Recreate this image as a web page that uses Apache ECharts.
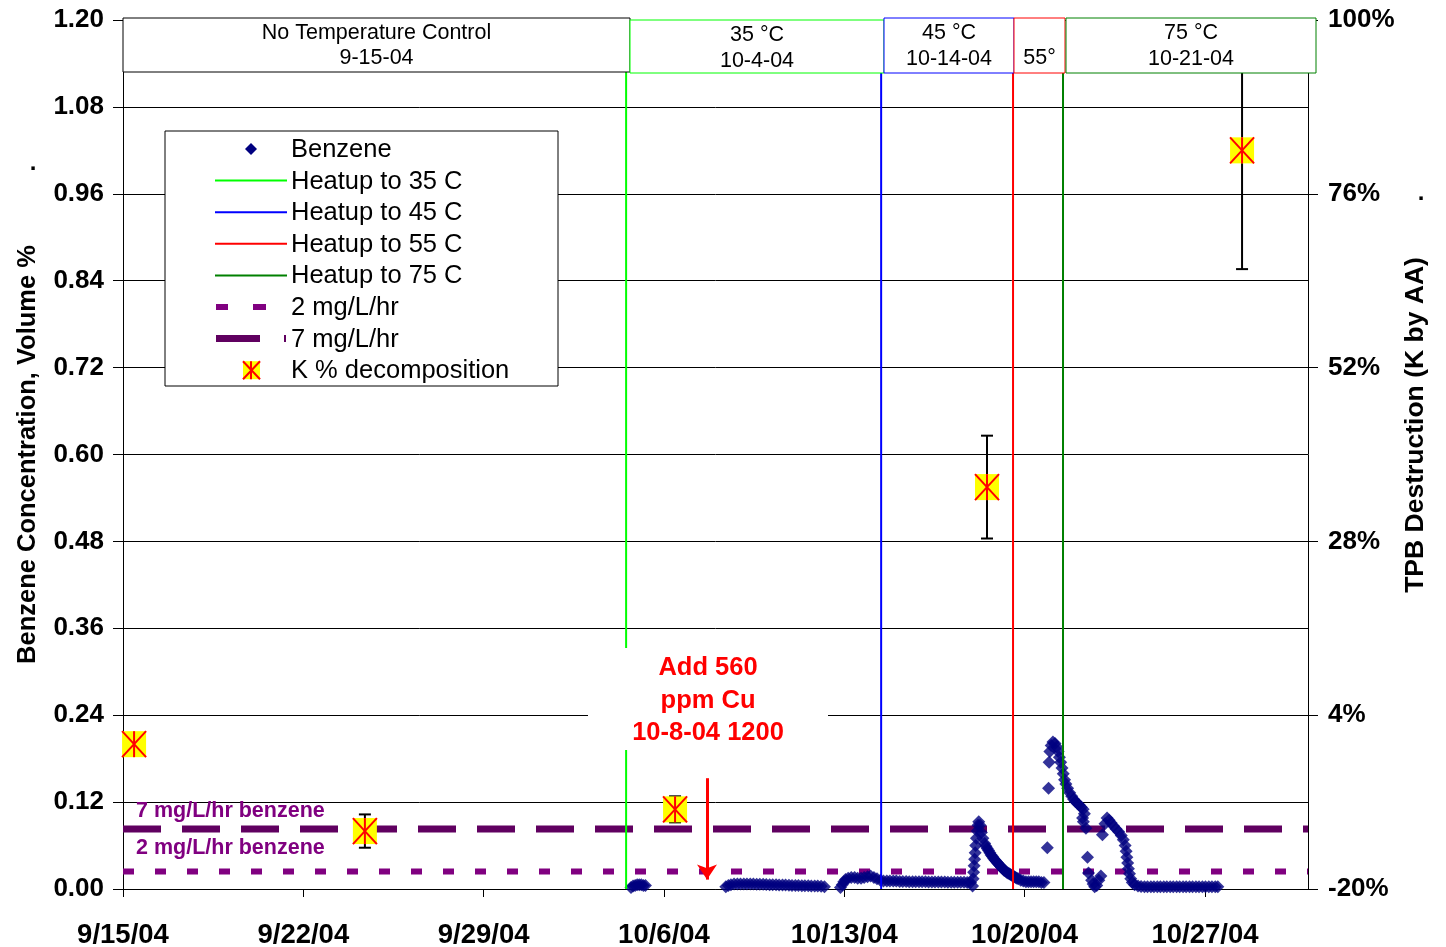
<!DOCTYPE html>
<html><head><meta charset="utf-8">
<script src="https://cdn.jsdelivr.net/npm/echarts@6/dist/echarts.min.js"></script>
<style>html,body{margin:0;padding:0;background:#fff}#c{width:1446px;height:947px}</style>
</head><body><div id="c"></div>
<script>
// ---- data (x = days since 9/15/04) ----
const xTickLabels = ['9/15/04','9/22/04','9/29/04','10/6/04','10/13/04','10/20/04','10/27/04'];
const xMaxDay = 46;
const leftAxis = {min: 0, max: 1.2, interval: 0.12};
const rightAxis = {min: -20, max: 100, interval: 24};

const heatupNames = ['Heatup to 35 C','Heatup to 45 C','Heatup to 55 C','Heatup to 75 C'];
const heatupDays = [19.53, 29.43, 34.55, 36.49];
const heatupColors = ['#00ff00','#0000ff','#ff0000','#008000'];

const rateNames = ['2 mg/L/hr','7 mg/L/hr'];
const rateValues = [0.024, 0.083];

const kDays = [0.43, 9.39, 21.43, 33.54, 43.44];
const kPct = [0, -12, -9, 35.5, 82];
const kErr = [0, 2.3, 1.8, 7.1, 16.4];

const arrowDay = 22.67;
const arrowFrom = 0.153;
const arrowTo = 0.013;

const benzene = [
 [19.72,0.002],[19.8,0.004],[19.88,0.005],[19.96,0.006],[20.04,0.006],[20.12,0.006],[20.2,0.005],[20.28,0.005],
 [23.4,0.003],[23.5,0.005],[23.6,0.006],[23.72,0.007],[23.85,0.007],[23.97,0.007],[24.1,0.007],[24.22,0.007],
 [24.35,0.007],[24.47,0.0068],[24.6,0.0066],[24.72,0.0065],[24.85,0.0064],[24.97,0.0062],[25.1,0.006],[25.22,0.006],
 [25.35,0.0058],[25.47,0.0056],[25.6,0.0055],[25.72,0.0054],[25.85,0.0052],[25.97,0.005],[26.1,0.005],[26.22,0.0048],
 [26.35,0.0046],[26.47,0.0045],[26.6,0.0044],[26.72,0.0042],[26.85,0.004],[26.97,0.004],[27.1,0.0037],[27.23,0.003],
 [27.85,0.002],[27.92,0.006],[27.98,0.01],[28.05,0.013],[28.15,0.015],[28.27,0.016],[28.4,0.016],[28.52,0.015],
 [28.65,0.015],[28.77,0.016],[28.9,0.017],[29.02,0.018],[29.15,0.016],[29.27,0.014],[29.4,0.012],
 [29.52,0.011],[29.65,0.011],[29.77,0.011],[29.9,0.011],[30.02,0.011],[30.15,0.0105],[30.27,0.0105],[30.4,0.0105],
 [30.52,0.01],[30.65,0.01],[30.77,0.01],[30.9,0.01],[31.02,0.01],[31.15,0.01],[31.27,0.0098],[31.4,0.0098],
 [31.52,0.0097],[31.65,0.0096],[31.77,0.0095],[31.9,0.0095],[32.02,0.0094],[32.15,0.0094],[32.27,0.0093],[32.4,0.0093],
 [32.52,0.0092],[32.65,0.0092],[32.77,0.009],[32.9,0.009],
 [32.98,0.004],[33.0,0.014],[33.02,0.023],[33.04,0.032],[33.06,0.041],[33.08,0.05],[33.1,0.06],[33.13,0.07],[33.16,0.08],
 [33.19,0.088],[33.22,0.093],[33.27,0.088],[33.32,0.078],[33.38,0.07],[33.45,0.063],[33.5,0.059],[33.55,0.056],[33.6,0.053],
 [33.65,0.05],[33.7,0.047],[33.75,0.045],[33.8,0.042],[33.85,0.04],[33.9,0.038],[33.95,0.036],[34.0,0.034],[34.05,0.032],
 [34.1,0.03],[34.15,0.028],[34.2,0.026],[34.25,0.025],[34.3,0.023],[34.35,0.022],[34.4,0.021],[34.45,0.02],[34.5,0.019],
 [34.55,0.018],[34.6,0.017],[34.65,0.016],[34.7,0.015],[34.75,0.014],
 [34.85,0.012],[34.95,0.011],[35.05,0.01],[35.15,0.01],[35.25,0.01],[35.35,0.01],[35.45,0.01],[35.55,0.01],[35.65,0.009],[35.75,0.009],
 [35.88,0.057],[35.93,0.139],[35.95,0.175],[35.98,0.19],[36.03,0.198],[36.1,0.203],[36.18,0.201],[36.25,0.196],[36.3,0.19],
 [36.35,0.182],[36.4,0.175],[36.45,0.167],[36.5,0.159],[36.55,0.151],[36.6,0.145],[36.67,0.139],[36.75,0.133],[36.83,0.128],
 [36.9,0.124],[36.97,0.121],[37.05,0.118],[37.12,0.116],[37.2,0.113],[37.27,0.11],[37.32,0.104],[37.25,0.098],[37.28,0.093],
 [37.38,0.084],[37.44,0.044],[37.48,0.022],[37.6,0.012],[37.66,0.007],[37.72,0.003],[37.8,0.005],[37.88,0.012],[37.96,0.018],
 [38.02,0.075],[38.12,0.09],[38.2,0.098],[38.28,0.095],[38.36,0.091],[38.45,0.087],[38.55,0.083],[38.65,0.079],[38.75,0.074],
 [38.83,0.068],[38.9,0.06],[38.94,0.052],[38.97,0.044],[39.0,0.036],[39.03,0.028],[39.07,0.021],[39.12,0.014],[39.18,0.009],
 [39.27,0.006],[39.4,0.004],[39.52,0.0035],[39.65,0.003],[39.77,0.003],[39.9,0.003],[40.02,0.003],[40.15,0.003],[40.27,0.003],
 [40.4,0.003],[40.52,0.003],[40.65,0.003],[40.77,0.003],[40.9,0.003],[41.02,0.003],[41.15,0.003],[41.27,0.003],[41.4,0.003],
 [41.52,0.003],[41.65,0.003],[41.77,0.003],[41.9,0.003],[42.02,0.003],[42.15,0.003],[42.27,0.003],[42.4,0.003],[42.5,0.003]
];

// ---- chart ----
const FONT = 'Liberation Sans, Arial, sans-serif';
const chart = echarts.init(document.getElementById('c'), null, {renderer: 'canvas'});

const series = [];
const rateStyles = [
  {color: '#800080', width: 6, type: [11, 21]},
  {color: '#600060', width: 7, type: [38, 21]}
];
rateNames.forEach((n, i) => {
  series.push({
    name: n, type: 'line', silent: true, symbol: 'none', z: 2,
    data: [[0, rateValues[i]], [xMaxDay, rateValues[i]]],
    lineStyle: rateStyles[i]
  });
});
series.push({
  name: 'Benzene', type: 'scatter', symbol: 'diamond', symbolSize: 13, z: 3,
  itemStyle: {color: '#000080'},
  data: benzene,
  markLine: {
    silent: true, symbol: ['none', 'arrow'], symbolSize: 15,
    lineStyle: {color: '#ff0000', width: 3, type: 'solid'},
    label: {show: false},
    data: [[{coord: [arrowDay, arrowFrom]}, {coord: [arrowDay, arrowTo]}]]
  }
});
heatupNames.forEach((n, i) => {
  series.push({
    name: n, type: 'line', silent: true, symbol: 'none', z: 4,
    data: [[heatupDays[i], leftAxis.min], [heatupDays[i], leftAxis.max]],
    lineStyle: {color: heatupColors[i], width: 2}
  });
});
series.push({
  name: 'K % decomposition', type: 'custom', yAxisIndex: 1, z: 5,
  data: kDays.map((d, i) => [d, kPct[i], kErr[i]]),
  renderItem: function (params, api) {
    const x = api.value(0), v = api.value(1), e = api.value(2);
    const c = api.coord([x, v]);
    const kids = [];
    if (e > 0) {
      const t = api.coord([x, v + e]), b = api.coord([x, v - e]);
      const ls = {stroke: '#000', lineWidth: 2};
      kids.push({type: 'line', shape: {x1: c[0], y1: t[1], x2: c[0], y2: b[1]}, style: ls});
      kids.push({type: 'line', shape: {x1: c[0]-6, y1: t[1], x2: c[0]+6, y2: t[1]}, style: ls});
      kids.push({type: 'line', shape: {x1: c[0]-6, y1: b[1], x2: c[0]+6, y2: b[1]}, style: ls});
    }
    const w = 12, h = 13;
    kids.push({type: 'rect', shape: {x: c[0]-w, y: c[1]-h, width: 2*w, height: 2*h}, style: {fill: '#ffff00'}});
    const rs = {stroke: '#ff0000', lineWidth: 2};
    kids.push({type: 'line', shape: {x1: c[0]-w, y1: c[1]-h, x2: c[0]+w, y2: c[1]+h}, style: rs});
    kids.push({type: 'line', shape: {x1: c[0]+w, y1: c[1]-h, x2: c[0]-w, y2: c[1]+h}, style: rs});
    kids.push({type: 'line', shape: {x1: c[0], y1: c[1]-h, x2: c[0], y2: c[1]+h}, style: rs});
    return {type: 'group', children: kids};
  }
});

// legend drawn as graphic
const legendItems = ['Benzene'].concat(heatupNames, rateNames, ['K % decomposition']);
const legX = 165, legY = 131, legW = 393, legH = 255, rowY0 = 149, rowGap = 31.6;
const g = [];
g.push({type: 'rect', shape: {x: legX, y: legY, width: legW, height: legH}, style: {fill: '#fff', stroke: '#000', lineWidth: 1}, z: 100});
legendItems.forEach((name, i) => {
  const y = rowY0 + i * rowGap;
  g.push({type: 'text', x: 291, y: y + 1, z: 101, style: {text: name, font: '25.5px ' + FONT, fill: '#000', align: 'left', verticalAlign: 'middle'}});
  if (i === 0) {
    g.push({type: 'polygon', z: 101, shape: {points: [[251, y-6], [257, y], [251, y+6], [245, y]]}, style: {fill: '#000080'}});
  } else if (i >= 1 && i <= 4) {
    g.push({type: 'line', z: 101, shape: {x1: 215, y1: y, x2: 287, y2: y}, style: {stroke: heatupColors[i-1], lineWidth: 2}});
  } else if (i === 5) {
    g.push({type: 'rect', z: 101, shape: {x: 216, y: y-3, width: 12, height: 6}, style: {fill: '#800080'}});
    g.push({type: 'rect', z: 101, shape: {x: 253, y: y-3, width: 13, height: 6}, style: {fill: '#800080'}});
  } else if (i === 6) {
    g.push({type: 'rect', z: 101, shape: {x: 216, y: y-3.5, width: 44, height: 7}, style: {fill: '#600060'}});
    g.push({type: 'rect', z: 101, shape: {x: 284, y: y-3.5, width: 2, height: 7}, style: {fill: '#600060'}});
  } else {
    const cx = 251, cy = y;
    g.push({type: 'rect', z: 101, shape: {x: cx-8, y: cy-9, width: 17, height: 18}, style: {fill: '#ffff00'}});
    g.push({type: 'line', z: 102, shape: {x1: cx-8, y1: cy-9, x2: cx+9, y2: cy+9}, style: {stroke: '#ff0000', lineWidth: 2}});
    g.push({type: 'line', z: 102, shape: {x1: cx+9, y1: cy-9, x2: cx-8, y2: cy+9}, style: {stroke: '#ff0000', lineWidth: 2}});
    g.push({type: 'line', z: 102, shape: {x1: cx, y1: cy-9, x2: cx, y2: cy+9}, style: {stroke: '#ff0000', lineWidth: 2}});
  }
});

// top period boxes
const boxes = [
  {x: 123, y: 18, w: 507, h: 54, c: '#000', t1: 'No Temperature Control', t2: '9-15-04', y1: 33, y2: 58},
  {x: 630, y: 20, w: 254, h: 53, c: '#00ff00', t1: '35 °C', t2: '10-4-04', y1: 35, y2: 61},
  {x: 884, y: 18, w: 130, h: 55, c: '#0000ff', t1: '45 °C', t2: '10-14-04', y1: 33, y2: 59},
  {x: 1014, y: 18, w: 51, h: 55, c: '#ff0000', t1: '', t2: '55°', y1: 33, y2: 58},
  {x: 1066, y: 18, w: 250, h: 55, c: '#008000', t1: '75 °C', t2: '10-21-04', y1: 33, y2: 59}
];
boxes.forEach(b => {
  g.push({type: 'rect', z: 100, shape: {x: b.x, y: b.y, width: b.w, height: b.h}, style: {fill: '#fff', stroke: b.c, lineWidth: 1}});
  const cx = b.x + b.w / 2;
  if (b.t1) g.push({type: 'text', z: 101, x: cx, y: b.y1, style: {text: b.t1, font: '21.5px ' + FONT, fill: '#000', align: 'center', verticalAlign: 'middle'}});
  g.push({type: 'text', z: 101, x: cx, y: b.y2, style: {text: b.t2, font: '21.5px ' + FONT, fill: '#000', align: 'center', verticalAlign: 'middle'}});
});

// Cu annotation
g.push({type: 'rect', z: 90, shape: {x: 588, y: 648, width: 240, height: 102}, style: {fill: '#fff'}});
['Add 560', 'ppm Cu', '10-8-04 1200'].forEach((t, i) => {
  g.push({type: 'text', z: 91, x: 708, y: 668 + i * 32.5, style: {text: t, font: 'bold 25.5px ' + FONT, fill: '#ff0000', align: 'center', verticalAlign: 'middle'}});
});
// rate labels
g.push({type: 'text', z: 91, x: 136, y: 811, style: {text: '7 mg/L/hr benzene', font: 'bold 21.5px ' + FONT, fill: '#800080', align: 'left', verticalAlign: 'middle'}});
g.push({type: 'text', z: 91, x: 136, y: 848, style: {text: '2 mg/L/hr benzene', font: 'bold 21.5px ' + FONT, fill: '#800080', align: 'left', verticalAlign: 'middle'}});
// right axis title
g.push({type: 'text', z: 91, x: 1416, y: 425, rotation: Math.PI / 2, style: {text: 'TPB Destruction (K by AA)', font: 'bold 26.5px ' + FONT, fill: '#000', align: 'center', verticalAlign: 'middle'}});
g.push({type: 'text', z: 91, x: 33, y: 163, style: {text: '.', font: 'bold 24px ' + FONT, fill: '#000', align: 'center', verticalAlign: 'middle'}});
g.push({type: 'text', z: 91, x: 1421, y: 193, style: {text: '.', font: 'bold 24px ' + FONT, fill: '#000', align: 'center', verticalAlign: 'middle'}});

const yLabelStyle = {fontFamily: FONT, fontSize: 26, fontWeight: 'bold', color: '#000'};
const xLabelStyle = {fontFamily: FONT, fontSize: 27.5, fontWeight: 'bold', color: '#000'};
const option = {
  animation: false,
  backgroundColor: '#fff',
  textStyle: {fontFamily: FONT},
  grid: {left: 123, right: 138, top: 20, bottom: 58, containLabel: false, outerBoundsMode: 'none'},
  xAxis: {
    type: 'value', min: 0, max: xMaxDay, interval: 7,
    axisLine: {show: true, lineStyle: {color: '#000', width: 1}},
    axisTick: {show: true, inside: false, length: 8, lineStyle: {color: '#000'}},
    axisLabel: Object.assign({margin: 32, showMaxLabel: false, formatter: v => (v % 7 === 0 ? (xTickLabels[v / 7] || '') : '')}, xLabelStyle),
    splitLine: {show: false}
  },
  yAxis: [
    {
      type: 'value', position: 'left', min: leftAxis.min, max: leftAxis.max, interval: leftAxis.interval,
      name: 'Benzene Concentration, Volume %', nameLocation: 'middle', nameRotate: 90, nameGap: 82,
      nameTextStyle: {fontFamily: FONT, fontSize: 25.5, fontWeight: 'bold', color: '#000'},
      axisLine: {show: true, lineStyle: {color: '#000', width: 1}},
      axisTick: {show: true, inside: false, length: 10, lineStyle: {color: '#000'}},
      axisLabel: Object.assign({margin: 19, formatter: v => v.toFixed(2)}, yLabelStyle),
      splitLine: {show: true, lineStyle: {color: '#000', width: 1}}
    },
    {
      type: 'value', position: 'right', min: rightAxis.min, max: rightAxis.max, interval: rightAxis.interval,
      axisLine: {show: true, lineStyle: {color: '#000', width: 1}},
      axisTick: {show: true, inside: false, length: 10, lineStyle: {color: '#000'}},
      axisLabel: Object.assign({margin: 20, formatter: v => v + '%'}, yLabelStyle),
      splitLine: {show: false}
    }
  ],
  series: series,
  graphic: {elements: g}
};
chart.setOption(option);
</script></body></html>
